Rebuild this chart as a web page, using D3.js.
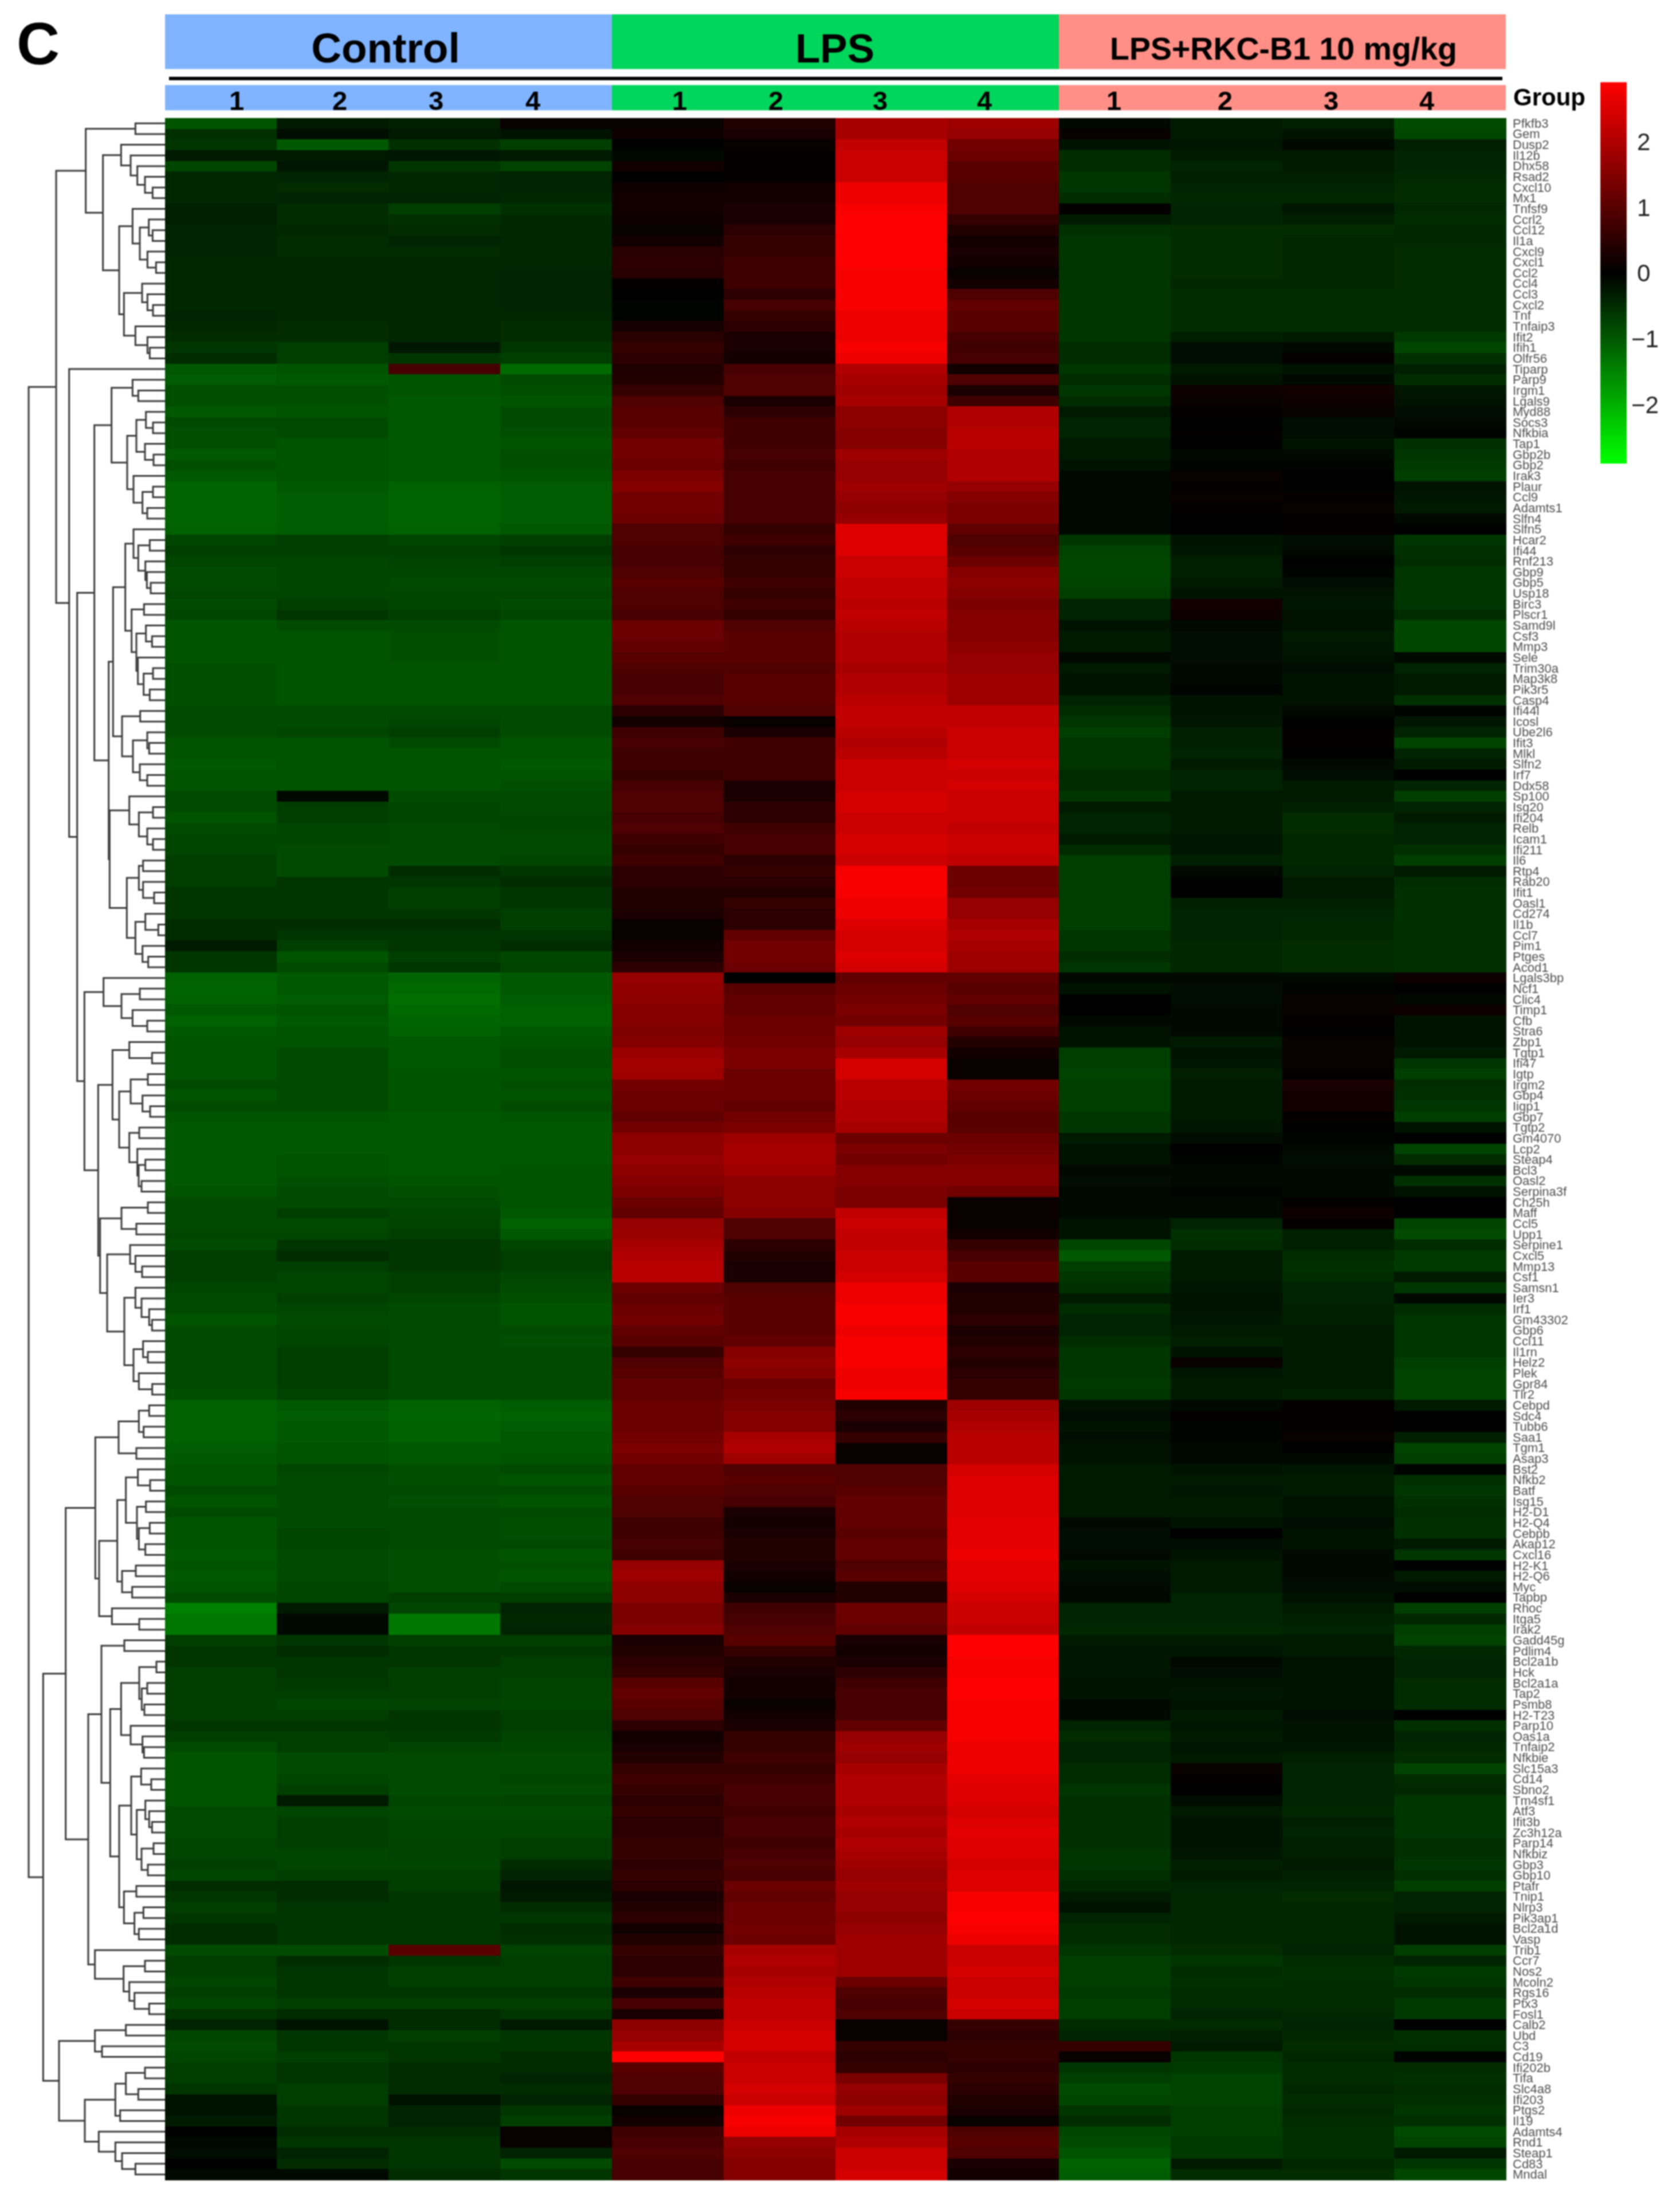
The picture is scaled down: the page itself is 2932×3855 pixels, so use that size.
<!DOCTYPE html>
<html>
<head>
<meta charset="utf-8">
<script src="https://cdn.jsdelivr.net/npm/d3@7"></script>
<style>
html,body{margin:0;padding:0;background:#fff}
svg{display:block;font-family:"Liberation Sans",Arial,sans-serif;filter:blur(0.9px)}
</style>
</head>
<body>
<svg id="chart" width="2932" height="3855"></svg>
<script>
const genes = ["Pfkfb3","Gem","Dusp2","Il12b","Dhx58","Rsad2","Cxcl10","Mx1","Tnfsf9","Ccrl2","Ccl12","Il1a","Cxcl9","Cxcl1","Ccl2","Ccl4","Ccl3","Cxcl2","Tnf","Tnfaip3","Ifit2","Ifih1","Olfr56","Tiparp","Parp9","Irgm1","Lgals9","Myd88","Socs3","Nfkbia","Tap1","Gbp2b","Gbp2","Irak3","Plaur","Ccl9","Adamts1","Slfn4","Slfn5","Hcar2","Ifi44","Rnf213","Gbp9","Gbp5","Usp18","Birc3","Plscr1","Samd9l","Csf3","Mmp3","Sele","Trim30a","Map3k8","Pik3r5","Casp4","Ifi44l","Icosl","Ube2l6","Ifit3","Mlkl","Slfn2","Irf7","Ddx58","Sp100","Isg20","Ifi204","Relb","Icam1","Ifi211","Il6","Rtp4","Rab20","Ifit1","Oasl1","Cd274","Il1b","Ccl7","Pim1","Ptges","Acod1","Lgals3bp","Ncf1","Clic4","Timp1","Cfb","Stra6","Zbp1","Tgtp1","Ifi47","Igtp","Irgm2","Gbp4","Iigp1","Gbp7","Tgtp2","Gm4070","Lcp2","Steap4","Bcl3","Oasl2","Serpina3f","Ch25h","Maff","Ccl5","Upp1","Serpine1","Cxcl5","Mmp13","Csf1","Samsn1","Ier3","Irf1","Gm43302","Gbp6","Ccl11","Il1rn","Helz2","Plek","Gpr84","Tlr2","Cebpd","Sdc4","Tubb6","Saa1","Tgm1","Asap3","Bst2","Nfkb2","Batf","Isg15","H2-D1","H2-Q4","Cebpb","Akap12","Cxcl16","H2-K1","H2-Q6","Myc","Tapbp","Rhoc","Itga5","Irak2","Gadd45g","Pdlim4","Bcl2a1b","Hck","Bcl2a1a","Tap2","Psmb8","H2-T23","Parp10","Oas1a","Tnfaip2","Nfkbie","Slc15a3","Cd14","Sbno2","Tm4sf1","Atf3","Ifit3b","Zc3h12a","Parp14","Nfkbiz","Gbp3","Gbp10","Ptafr","Tnip1","Nlrp3","Pik3ap1","Bcl2a1d","Vasp","Trib1","Ccr7","Nos2","Mcoln2","Rgs16","Ptx3","Fosl1","Calb2","Ubd","C3","Cd19","Ifi202b","Tifa","Slc4a8","Ifi203","Ptgs2","Il19","Adamts4","Rnd1","Steap1","Cd83","Mndal"];

const control1 = [-.95,-.55,-.6,-.3,-.8,-.45,-.45,-.45,-.35,-.35,-.4,-.4,-.4,-.45,-.45,-.45,-.45,-.45,-.4,-.45,-.5,-.6,-.5,-1,-1.05,-.9,-.9,-1,-.85,-.9,-.9,-1,-.9,-1,-1.15,-1.15,-1.15,-1.15,-1.1,-.8,-.7,-.8,-.85,-.85,-.8,-.85,-.8,-.95,-.95,-.95,-.95,-.9,-.9,-.9,-.9,-.85,-.85,-.85,-.95,-.95,-1,-.95,-.95,-.85,-.85,-.95,-.85,-.8,-.8,-.7,-.7,-.7,-.6,-.6,-.6,-.5,-.5,-.3,-.6,-.6,
-1.1,-1.15,-1.1,-1,-1.1,-1,-.95,-.95,-.95,-.95,-.85,-.95,-.85,-.95,-1,-1,-1,-1,-1,-1,-.95,-.85,-.85,-.85,-.8,-.85,-.7,-.7,-.7,-.8,-.85,-.85,-.95,-.85,-.85,-.85,-.85,-.85,-.85,-.9,-1.1,-1.1,-1.1,-1.1,-1.05,-1,-.95,-.95,-.85,-.95,-.85,-.95,-.95,-.95,-1,-.95,-1,-.95,-.85,-1.45,-1.35,-1.35,-.7,-.6,-.6,-.7,-.7,-.7,-.7,-.7,-.6,-.7,-.85,-.95,-.95,-.95,-.95,-.95,-.85,-.85,-.85,-.8,-.8,-.7,-.8,-.5,-.6,-.7,-.6,-.5,-.5,-.85,-.7,-.7,-.8,-.7,-.8,-.6,-.4,-.8,-.85,-.8,-.7,-.7,-.6,-.2,-.2,-.3,0,-.1,-.15,0,-.1];
const control2 = [-.3,-.15,-1,-.3,-.25,-.4,-.5,-.4,-.5,-.5,-.45,-.5,-.5,-.45,-.45,-.45,-.45,-.45,-.45,-.5,-.5,-.7,-.7,-.95,-1,-.9,-.9,-.95,-.85,-.85,-.95,-.95,-.95,-.95,-1,-1.05,-1.05,-1.05,-1.05,-.7,-.7,-.8,-.8,-.8,-.8,-.7,-.6,-.85,-.95,-.95,-.95,-.95,-.95,-.95,-.95,-.85,-.85,-.8,-.95,-.95,-.95,-.95,-.95,-.1,-.7,-.7,-.8,-.8,-.85,-.85,-.85,-.6,-.6,-.6,-.6,-.5,-.6,-.7,-.95,-.85,
-1,-1,-1.05,-.95,-1,-.95,-.95,-.85,-.85,-.85,-.85,-.85,-.85,-.95,-1,-1,-1,-.95,-.95,-.9,-.85,-.85,-.7,-.85,-.8,-.6,-.5,-.7,-.8,-.8,-.7,-.8,-.85,-.8,-.8,-.7,-.7,-.7,-.7,-.75,-1,-1.05,-1,-1,-.95,-.95,-.8,-.85,-.85,-.85,-.85,-.85,-.8,-.8,-.85,-.85,-.85,-.8,-.8,-.3,-.1,-.1,-.6,-.5,-.6,-.6,-.65,-.7,-.8,-.7,-.6,-.7,-.7,-.85,-.85,-.8,-.7,-.3,-.8,-.7,-.7,-.7,-.8,-.8,-.7,-.5,-.5,-.6,-.6,-.6,-.6,-.85,-.5,-.6,-.6,-.6,-.7,-.5,-.2,-.6,-.6,-.7,-.6,-.6,-.7,-.7,-.6,-.6,-.5,-.6,-.4,-.5,-.1];
const control3 = [-.35,-.3,-.55,-.25,-.6,-.45,-.45,-.4,-.7,-.55,-.5,-.4,-.5,-.45,-.45,-.45,-.45,-.45,-.45,-.45,-.45,-.25,-.6,.8,-.95,-.95,-1,-1,-1,-1,-1,-1,-1,-1,-1.1,-1.15,-1.15,-1.15,-1.1,-.8,-.7,-.75,-.8,-.85,-.8,-.8,-.7,-.85,-.9,-.9,-.9,-.95,-.95,-.95,-.95,-.85,-.8,-.7,-.85,-.95,-.95,-.95,-.95,-.85,-.8,-.8,-.85,-.85,-.85,-.85,-.5,-.6,-.7,-.7,-.6,-.5,-.6,-.6,-.7,-.6,
-1.15,-1.2,-1.25,-1.2,-1.15,-1.1,-1,-1,-1,-.95,-.95,-.95,-.95,-1,-1,-1,-1,-1,-1,-.95,-.9,-.85,-.8,-.75,-.7,-.6,-.6,-.6,-.7,-.7,-.8,-.85,-.85,-.85,-.85,-.85,-.85,-.85,-.85,-.85,-1.1,-1.15,-1.1,-1.1,-1,-1,-.9,-.9,-.85,-.9,-.85,-.85,-.85,-.85,-.9,-.9,-.9,-.9,-.7,-.8,-1.35,-1.35,-.7,-.6,-.6,-.7,-.7,-.7,-.75,-.6,-.6,-.65,-.75,-.85,-.85,-.85,-.85,-.8,-.85,-.8,-.8,-.75,-.75,-.8,-.7,-.7,-.6,-.6,-.6,-.6,-.6,1,-.6,-.7,-.7,-.6,-.7,-.5,-.5,-.7,-.6,-.6,-.5,-.5,-.5,-.2,-.4,-.4,-.5,-.6,-.6,-.6,-.5];
const control4 = [.1,-.2,-.7,-.3,-.75,-.4,-.4,-.45,-.55,-.45,-.45,-.45,-.45,-.45,-.4,-.4,-.4,-.4,-.45,-.5,-.5,-.6,-.7,-1.2,-.85,-.9,-.95,-.85,-.85,-.9,-.95,-.9,-.9,-.95,-1.05,-1.05,-1.05,-1.05,-1,-.7,-.6,-.7,-.8,-.85,-.8,-.85,-.8,-.95,-.95,-.95,-.95,-.95,-.95,-.95,-.95,-.85,-.85,-.85,-.95,-.95,-1,-.95,-.9,-.85,-.85,-.8,-.8,-.85,-.85,-.8,-.6,-.5,-.6,-.6,-.7,-.7,-.6,-.5,-.8,-.75,
-1,-1,-1.05,-1.1,-1.1,-1,-.95,-.9,-.9,-.95,-.9,-.95,-.85,-.95,-1,-1,-1,-1,-.95,-.95,-.95,-.95,-1,-1.1,-1,-.8,-.7,-.7,-.8,-.85,-.9,-.95,-.95,-.85,-.9,-.85,-.85,-.85,-.85,-.85,-1.05,-1.1,-1.05,-1,-1,-.95,-.85,-.95,-.85,-.95,-.85,-.9,-.9,-.85,-.95,-.9,-.95,-.85,-.7,-.4,-.45,-.4,-.7,-.6,-.7,-.7,-.75,-.75,-.8,-.7,-.7,-.75,-.8,-.85,-.85,-.8,-.85,-.75,-.85,-.8,-.8,-.7,-.7,-.5,-.4,-.25,-.3,-.5,-.6,-.5,-.55,-.75,-.7,-.7,-.7,-.6,-.7,-.6,-.3,-.6,-.6,-.5,-.5,-.4,-.5,-.4,-.6,-.7,.1,.1,-.4,-.85,-.6];
const lps1 = [.1,.15,0,-.1,.2,0,.15,.2,.2,.15,.1,.2,.45,.5,.45,.05,0,-.05,-.05,.25,.45,.6,.5,.35,.4,.6,.9,1.0,1.0,1.1,1.3,1.3,1.2,1.4,1.5,1.3,1.3,1.2,.9,.9,.8,.8,.9,1,.9,.9,.8,1.2,1.2,1.1,1.0,.9,.8,.8,.9,.5,.2,.7,.8,.7,.7,.6,.8,.9,.9,.8,.9,.7,.6,.7,.5,.5,.4,.4,.3,.1,.1,.2,.3,.5,
1.7,1.65,1.6,1.5,1.5,1.45,1.5,1.75,1.85,1.8,1.3,1.2,1.2,1.1,1.3,1.6,1.6,1.7,1.6,1.5,1.4,1.2,1.1,1.7,1.75,1.9,2,2.1,2.1,1.2,1.1,1.2,1.3,1.1,1.0,.6,.9,1.0,1.1,1.1,1.2,1.2,1.2,1.3,1.4,1.3,1.1,1.1,1.0,.9,.9,.7,.7,.8,.7,1.7,1.8,1.6,1.6,1.4,1.4,1.5,.3,.4,.5,.6,1.0,1.1,1.0,.9,.5,.2,.3,.4,.6,.7,.6,.5,.6,.5,.5,.6,.6,.5,.6,.5,.3,.4,.5,.2,.4,.6,.5,.5,.7,.3,.8,.3,1.6,1.7,1.9,2.9,1.0,.9,.9,.6,.1,.2,.7,.8,.9,.8,.8];
const lps2 = [.4,.3,.1,.05,.05,.05,.2,.2,.3,.3,.5,.6,.6,.7,.7,.7,.5,.8,.6,.5,.3,.3,.2,.8,.9,.9,.3,.5,.7,.7,.7,.8,.7,.8,.8,.8,.8,.8,.6,.7,.5,.6,.6,.7,.6,.7,.6,.9,1,1,1,.9,1,1,1,.9,.1,.3,.7,.7,.7,.7,.3,.3,.5,.5,.7,.8,.8,.5,.6,.5,.4,.6,.5,.5,1.1,1.3,1.3,1.2,
0,1.0,1.1,1.1,1.2,1.2,1.3,1.4,1.4,1.2,1.2,1.2,1.1,1.3,1.4,1.8,1.9,1.9,1.8,1.6,1.6,1.6,1.5,.9,.9,.5,.4,.3,.3,.9,1,1,1,1,1.1,1.5,1.6,1.5,1.2,1.3,1.4,1.5,1.5,1.9,2,1.8,.9,1,.9,.8,.3,.2,.3,.4,.4,.3,.2,.1,.3,.7,.8,.9,1,.6,.4,.3,.2,.2,.1,.2,.3,.6,.6,.7,.6,.7,.8,.8,.7,.8,.8,.7,.8,.9,.8,1.2,1.1,1.2,1.2,1.3,1.2,1.9,2,1.9,2,2.1,2.2,2.2,2.3,2.4,2.4,2.2,2.3,2.3,2.4,2.3,2.7,2.8,2.7,1.7,1.6,1.5,1.5];
const lps3 = [1.9,1.9,2.2,2.3,2.3,2.3,2.7,2.7,2.8,2.9,2.9,2.9,2.9,2.9,2.8,2.8,2.8,2.8,2.7,2.7,2.7,2.8,2.7,2,1.9,1.8,1.9,1.6,1.6,1.5,1.5,1.8,1.7,1.7,1.8,1.7,1.6,1.7,2.5,2.5,2.5,2.3,2.3,2.2,2.2,2.1,2.2,2.1,2,2,2,1.9,2,2,2.1,2.2,2.2,2.1,2,2.1,2.3,2.3,2.3,2.4,2.4,2.3,2.3,2.4,2.4,2.3,2.8,2.8,2.8,2.7,2.7,2.5,2.4,2.4,2.5,2.4,
1.1,1.2,1.3,1.4,1.3,1.8,1.7,1.9,2.4,2.4,2.1,2.1,2,2,1.9,1.2,1.4,1.3,1.5,1.5,1.4,1.4,2.2,2.3,2.2,2.2,2.3,2.3,2.4,2.7,2.7,2.8,2.8,2.7,2.8,2.8,2.8,2.7,2.7,2.8,.4,.5,.3,.6,.1,.1,.9,.9,1,1.1,1.1,1.1,1,1.1,1.1,.9,1.0,.4,.4,1.2,1.2,1.1,.3,.2,.3,.5,.7,.8,.8,.8,1.1,1.7,1.8,1.7,1.9,2,2,2,1.9,2,1.9,2,1.9,1.8,1.7,1.8,1.7,1.7,1.6,1.7,1.8,1.8,1.8,1.8,1.2,.9,.8,.9,.1,.1,.6,.5,.6,1.4,1.7,1.6,1.8,1.3,1.9,2,2.3,2.3,2.4];
const lps4 = [1.8,1.7,1.3,1.2,1,1,.9,.9,.9,.6,.4,.2,.3,.2,.1,.2,.9,1.1,1,1,.8,.7,.8,.2,.9,.3,.7,2,2,2.1,2.1,2,2,2,1.7,1.5,1.4,1.4,1.1,.9,1,1.2,1.5,1.6,1.5,1.4,1.5,1.5,1.5,1.6,1.7,1.7,1.8,1.8,1.8,2.2,2.2,2.3,2.3,2.3,2.4,2.3,2.4,2.3,2.3,2.3,2.2,2.3,2.3,2.2,1.2,1.2,1.3,1.7,1.7,1.9,2,1.9,1.8,1.8,
1.1,1,1.1,.9,1,.7,.4,.2,.1,.1,1.3,1.2,1.1,1,1,1.2,1.3,1.4,1.5,1.5,1.3,.1,.1,.1,.2,.6,.8,1,1,.3,.4,.4,.5,.3,.4,.5,.4,.5,.6,.6,1.8,1.9,2,2.1,2.1,2.1,2.4,2.5,2.5,2.5,2.5,2.6,2.6,2.6,2.7,2.6,2.6,2.5,2.4,2.3,2.3,2.2,2.9,2.9,2.8,2.8,2.9,2.9,2.8,2.8,2.8,2.8,2.7,2.7,2.7,2.6,2.5,2.5,2.4,2.5,2.6,2.5,2.5,2.4,2.5,2.5,2.8,2.8,2.9,2.8,2.7,2.3,2.3,2.4,2.3,2.3,2.4,2.3,.6,.5,.6,.6,.5,.6,.5,.4,.3,.1,.9,1,.9,.3,.2];
const rkc1 = [-.1,.1,-.2,-.5,-.5,-.6,-.6,-.5,.05,-.3,-.55,-.6,-.6,-.6,-.6,-.6,-.6,-.6,-.6,-.6,-.6,-.5,-.5,-.6,-.5,-.6,-.5,-.3,-.4,-.4,-.3,-.3,-.2,-.1,-.1,-.1,-.1,-.1,-.1,-.6,-.75,-.8,-.8,-.75,-.7,-.4,-.4,-.2,-.3,-.3,-.1,-.3,-.2,-.2,-.4,-.5,-.6,-.7,-.6,-.6,-.6,-.5,-.5,-.6,-.3,-.4,-.4,-.3,-.5,-.7,-.7,-.7,-.7,-.7,-.7,-.7,-.6,-.6,-.5,-.6,
-.1,-.2,0,0,-.1,-.2,-.2,-.7,-.7,-.75,-.7,-.7,-.7,-.6,-.6,-.3,-.2,-.2,-.1,-.15,-.1,-.1,-.1,-.2,-.2,-.8,-1,-.7,-.6,-.55,-.3,-.5,-.4,-.4,-.5,-.6,-.6,-.6,-.65,-.6,-.2,-.15,-.2,-.15,-.2,-.2,-.3,-.3,-.3,-.3,-.3,-.1,-.15,-.15,-.1,-.2,-.15,-.1,-.1,-.4,-.4,-.45,-.3,-.25,-.25,-.25,-.2,-.2,-.1,-.1,-.4,-.5,-.4,-.4,-.5,-.5,-.6,-.55,-.55,-.55,-.55,-.55,-.6,-.6,-.55,-.45,-.3,-.2,-.4,-.5,-.5,-.6,-.7,-.7,-.7,-.65,-.7,-.7,-.5,-.4,.6,.1,-.6,-.7,-.85,-.8,-.6,-.5,-.8,-.85,-.95,-1.1,-1.05];
const rkc2 = [-.3,-.3,-.25,-.3,-.4,-.35,-.4,-.45,-.4,-.4,-.5,-.5,-.5,-.5,-.5,-.45,-.5,-.5,-.5,-.5,-.35,-.15,-.15,-.3,-.2,.15,.1,.05,0,.05,0,-.1,-.05,.1,.05,.1,.05,0,0,-.2,-.25,-.35,-.35,-.3,-.2,.2,.15,-.1,-.15,-.15,-.15,-.1,-.1,-.05,-.2,-.2,-.25,-.35,-.35,-.4,-.3,-.4,-.4,-.3,-.3,-.3,-.3,-.25,-.25,-.35,-.1,0,0,-.35,-.4,-.4,-.4,-.45,-.45,-.45,
-.1,-.15,-.15,-.1,-.1,-.1,-.3,-.2,-.25,-.35,-.3,-.3,-.3,-.3,-.25,-.15,0,-.05,-.1,-.1,-.05,-.1,-.1,-.4,-.55,-.5,-.3,-.3,-.3,-.25,-.2,-.2,-.25,-.3,-.35,-.2,.1,-.25,-.3,-.3,-.1,.05,-.05,-.05,-.1,-.1,-.2,-.3,-.25,-.3,-.3,-.2,0,-.15,-.2,-.3,-.3,-.3,-.4,-.4,-.4,-.45,-.3,-.25,-.1,-.15,-.2,-.25,-.2,-.3,-.25,-.3,-.25,-.3,.1,.05,0,-.15,-.3,-.2,-.2,-.2,-.25,-.35,-.3,-.4,-.45,-.45,-.45,-.45,-.45,-.5,-.6,-.5,-.55,-.5,-.5,-.4,-.5,-.35,-.3,-.6,-.65,-.75,-.75,-.75,-.7,-.7,-.7,-.65,-.65,-.3,-.5];
const rkc3 = [-.35,-.2,-.1,-.3,-.3,-.35,-.4,-.45,-.25,-.35,-.5,-.45,-.45,-.45,-.45,-.45,-.5,-.5,-.5,-.5,-.3,-.1,.05,-.2,-.1,.2,.15,.1,-.15,-.15,-.2,-.1,-.05,0,0,.05,.1,.05,.05,-.15,-.1,0,-.05,-.15,-.2,-.25,-.2,-.2,-.3,-.25,-.2,-.15,-.2,-.2,-.2,-.1,0,.05,.05,0,-.1,-.15,-.3,-.3,-.35,-.5,-.5,-.45,-.45,-.45,-.4,-.3,-.3,-.35,-.4,-.45,-.45,-.5,-.5,-.5,
-.1,-.05,.1,.1,.05,0,.1,.1,.1,.05,.3,.2,.2,.05,0,-.05,-.1,-.15,-.1,-.1,-.1,.05,.15,.05,-.35,-.35,-.5,-.55,-.5,-.4,-.4,-.35,-.35,-.3,-.3,-.3,-.3,-.3,-.3,-.35,.05,.05,.05,.1,0,-.1,-.25,-.3,-.3,-.2,-.2,-.15,-.2,-.2,-.1,-.1,-.1,-.15,-.2,-.3,-.35,-.4,-.3,-.3,-.2,-.2,-.2,-.2,-.2,-.15,-.2,-.2,-.25,-.35,-.4,-.4,-.4,-.4,-.45,-.35,-.4,-.35,-.35,-.3,-.35,-.4,-.5,-.45,-.45,-.45,-.45,-.4,-.5,-.55,-.5,-.5,-.5,-.45,-.4,-.45,-.5,-.45,-.5,-.5,-.45,-.5,-.45,-.5,-.55,-.55,-.55,-.45,-.5];
const rkc4 = [-.85,-.8,-.35,-.4,-.4,-.45,-.5,-.5,-.45,-.5,-.45,-.45,-.5,-.5,-.5,-.5,-.5,-.5,-.5,-.5,-.65,-.8,-.55,-.35,-.5,-.25,-.2,-.15,-.1,-.05,-.55,-.6,-.65,-.7,-.2,-.25,-.3,-.1,0,-.6,-.55,-.5,-.6,-.6,-.6,-.6,-.5,-.8,-.8,-.8,-.1,-.4,-.3,-.3,-.55,-.05,-.25,-.4,-.75,-.4,-.3,0,-.4,-.7,-.4,-.3,-.4,-.4,-.55,-.7,-.3,-.5,-.55,-.55,-.55,-.55,-.55,-.55,-.55,-.55,
.15,0,-.1,.15,-.2,-.2,-.2,-.3,-.6,-.7,-.5,-.55,-.6,-.7,-.2,0,-.75,-.5,-.1,-.55,-.2,0,0,-.75,-.85,-.5,-.65,-.65,-.3,-.6,-.1,-.5,-.6,-.6,-.6,-.6,-.7,-.75,-.75,-.75,-.3,0,0,-.35,-.75,-.7,-.05,-.55,-.6,-.55,-.5,-.55,-.55,-.3,-.6,0,-.3,-.15,0,-.7,-.45,-.7,-.75,-.45,-.4,-.4,-.5,-.5,-.5,0,-.55,-.4,-.45,-.5,-.75,-.5,-.45,-.6,-.6,-.6,-.6,-.55,-.55,-.6,-.55,-.7,-.4,-.4,-.3,-.2,-.2,-.7,-.4,-.65,-.6,-.5,-.65,-.65,0,-.55,-.5,-.05,-.5,-.55,-.5,-.55,-.6,-.55,-.85,-.75,-.3,-.6,-.8];

const columns = [control1,control2,control3,control4,lps1,lps2,lps3,lps4,rkc1,rkc2,rkc3,rkc4];
const groupNames = ["Control","LPS","LPS+RKC-B1 10 mg/kg"];
const sampleNumbers = [1,2,3,4,1,2,3,4,1,2,3,4];
const legendTicks = [2,1,0,-1,-2];

// Row dendrogram: [height, child, child]; a number is a leaf (row index)
const treeA = [415,[155,0,1],[325,[230,2,[180,3,[145,4,[105,5,[65,6,7]]]]],[240,[170,8,[132,[85,9,[65,10,11]],[92,12,[47,13,14]]]],[215,[120,15,[92,16,[63,17,18]]],[155,19,[92,20,[80,21,22]]]]]]];
const treeF = [280,[170,24,[140,25,26]],[198,[150,[100,27,[63,28,29]],[105,30,[60,31,32]]],[165,33,[118,[63,34,35],[93,36,37]]]]];
const treeJ = [208,[165,38,[140,[80,39,40],[103,41,[95,42,[75,43,44]]]]],[175,[110,45,46],[150,[100,47,[68,48,49]],[142,50,[112,[63,51,52],[80,53,54]]]]]];
const treeK = [225,[130,55,56],[168,[93,57,[83,58,59]],[132,60,[93,61,62]]]];
const treeL = [187,63,[137,[63,64,65],[93,66,[63,67,68]]]];
const treeM = [200,[137,[115,69,70],[115,71,[57,72,73]]],[155,[103,74,[35,75,76]],[118,77,[88,78,79]]]];
const treeN = [322,80,[228,[132,81,82],[170,83,[93,84,85]]]];
const treeP = [275,[187,86,[68,87,88]],[240,[180,[90,89,90],[118,91,[78,92,93]]],[187,[135,94,95],[145,96,[138,[103,97,98],[123,99,100]]]]]];
const treeQ = [340,[228,[90,101,102],[150,103,104]],[303,[183,105,[155,106,[120,107,108]]],[213,[155,109,[123,110,[83,111,[68,112,113]]]],[165,[115,114,[90,115,116]],[137,117,[67,118,119]]]]]];
const treeT = [365,[243,[137,[83,120,121],[112,122,123]],[150,124,125]],[345,[250,[205,[142,126,[78,127,128]],[147,[100,129,130],[137,[80,131,132],[103,133,134]]]],[225,[153,135,136],[172,137,138]]],[278,139,[135,140,141]]]];
const treeU = [402,[333,[213,142,143],[287,[230,[135,[45,144,145],[122,[93,146,147],[108,148,149]]],[180,150,[118,151,[110,152,153]]]],[240,[177,[125,154,[72,155,156]],[148,[103,157,[83,158,[68,159,160]]],[123,[60,161,162],[90,163,164]]]],[215,[150,165,166],[160,[113,167,168],[137,169,170]]]]]],[367,171,[217,[105,172,173],[187,174,[160,175,[83,176,177]]]]]];
const treeS = [555,[367,[205,178,179],[330,180,181]],[420,[260,[205,[105,182,183],[140,184,185]],[235,186,187]],[347,188,[260,189,[225,190,[155,191,192]]]]]];
const treeB = [502,23,[460,[370,treeF,[295,[272,treeJ,treeK],[290,treeL,treeM]]],[422,treeN,[350,treeP,treeQ]]]];
const rowTree = [714,[570,treeA,treeB],[638,[520,treeT,treeU],treeS]];

if (columns.some(c => c.length !== genes.length)) console.error("column lengths", columns.map(c => c.length), genes.length);

// layout
const heat = {left:288, right:2628, top:206, bottom:3804};
const groupBoxes = [{c0:0,c1:4,fill:"#80B4FF"},{c0:4,c1:8,fill:"#00D65B"},{c0:8,c1:12,fill:"#FF8F87"}];
const groupLabelStyle = [{size:73,cx:673,y:109},{size:71,cx:1457,y:109},{size:55.5,cx:2240,y:104}];
const sampleLabelX = [413,593,761,930,1186,1354,1536,1718,1944,2138,2323,2490];

const svg = d3.select("#chart");
const x = d3.scaleBand().domain(d3.range(12)).range([heat.left, heat.right]);
const y = d3.scaleBand().domain(d3.range(genes.length)).range([heat.top, heat.bottom]);
const color = d3.scaleLinear().domain([-2.9,0,2.9]).range(["#00ff00","#000000","#ff0000"]);
const xh = d3.scaleLinear().domain([0,714]).range([heat.left, heat.left-238]);

// panel letter
svg.append("text").attr("x",29).attr("y",112).attr("font-size",104).attr("font-weight","bold").text("C");

// group bars
const groupG = svg.append("g");
groupBoxes.forEach((g,i)=>{
  groupG.append("rect").attr("x",x(g.c0)).attr("y",25).attr("width",x.bandwidth()*(g.c1-g.c0)).attr("height",95.5).attr("fill",g.fill);
  groupG.append("rect").attr("x",x(g.c0)).attr("y",148.5).attr("width",x.bandwidth()*(g.c1-g.c0)).attr("height",44).attr("fill",g.fill);
  const s = groupLabelStyle[i];
  groupG.append("text").attr("x",s.cx).attr("y",s.y).attr("text-anchor","middle").attr("font-size",s.size).attr("font-weight","bold").text(groupNames[i]);
});
svg.append("rect").attr("x",295).attr("y",134).attr("width",2327).attr("height",6).attr("fill","#000");

// sample numbers
svg.append("g").selectAll("text").data(sampleNumbers).join("text")
  .attr("x",(d,i)=>sampleLabelX[i]).attr("y",192).attr("text-anchor","middle")
  .attr("font-size",47).attr("font-weight","bold").text(d=>d);

svg.append("text").attr("x",2641).attr("y",184).attr("font-size",42).attr("font-weight","bold").text("Group");

// heatmap
const cells = svg.append("g").attr("shape-rendering","crispEdges");
columns.forEach((col,c)=>{
  cells.selectAll(null).data(col).join("rect")
    .attr("x",x(c)).attr("y",(d,r)=>y(r))
    .attr("width",x.bandwidth()+0.5).attr("height",y.bandwidth()+0.5)
    .attr("fill",d=>color(d));
});

// gene labels
svg.append("g").selectAll("text").data(genes).join("text")
  .attr("x",2640).attr("y",(d,i)=>y(i)+y.bandwidth()/2+7.5)
  .attr("font-size",22).attr("fill","#505050").text(d=>d);

// dendrogram
const root = d3.hierarchy(rowTree, d => Array.isArray(d) ? d.slice(1) : null);
const dendro = svg.append("g").attr("fill","none").attr("stroke","#3c3c3c").attr("stroke-width",3);
root.eachAfter(n=>{
  if(!n.children){ n.h = 0; n.yPos = y(n.data)+y.bandwidth()/2; return; }
  n.h = n.data[0];
  const [a,b] = n.children;
  n.yPos = (a.yPos+b.yPos)/2;
  dendro.append("path").attr("d",`M${xh(a.h)},${a.yPos}H${xh(n.h)}V${b.yPos}H${xh(b.h)}`);
});

// colour key
const legendY = d3.scaleLinear().domain([2.9,-2.9]).range([143.5,809]);
const grad = svg.append("defs").append("linearGradient").attr("id","key").attr("x1",0).attr("x2",0).attr("y1",0).attr("y2",1);
[2.9,0,-2.9].forEach((v,i)=>grad.append("stop").attr("offset",i/2).attr("stop-color",color(v)));
svg.append("rect").attr("x",2793).attr("y",legendY(2.9)).attr("width",46).attr("height",legendY(-2.9)-legendY(2.9)).attr("fill","url(#key)");
svg.append("g").selectAll("text").data(legendTicks).join("text")
  .attr("x",d=>d<0?2847:2857).attr("y",d=>legendY(d)+15).attr("font-size",42).attr("fill","#222")
  .text(d=>d<0?"\u2212"+(-d):d);
</script>
</body>
</html>
